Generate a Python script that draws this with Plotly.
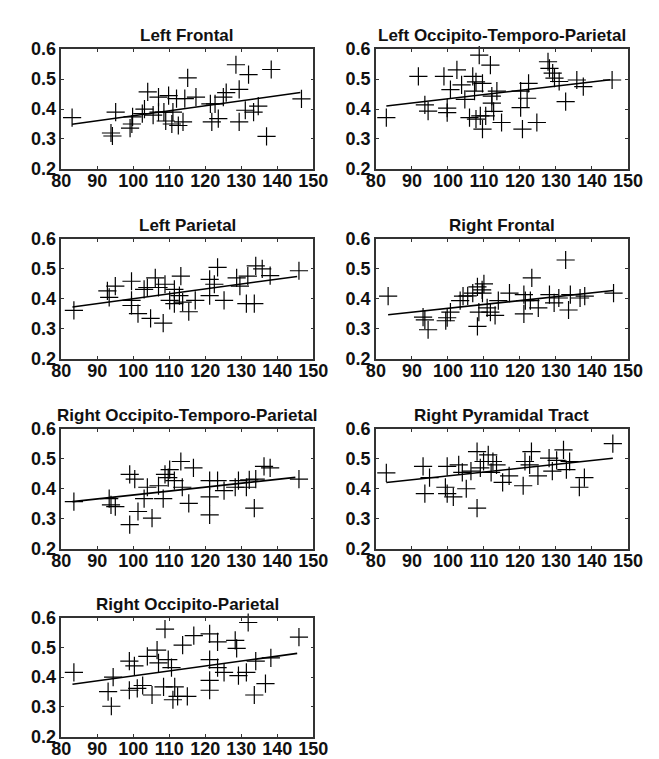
import plotly.graph_objects as go

W, H = 659, 759

titles = ["Left Frontal", "Left Occipito-Temporo-Parietal", "Left Parietal",
          "Right Frontal", "Right Occipito-Temporo-Parietal", "Right Pyramidal Tract",
          "Right Occipito-Parietal"]

# --- data (x = score, y = FA) ---
lf_x = [83, 93.8, 94.2, 95.1, 99.1, 99.6, 99.8, 102.5, 103.1, 104, 105.5, 107, 107, 108.5,
        109, 109.8, 110.7, 111, 112, 112.5, 113.8, 114.3, 115.1, 117.4, 121.4, 121.8, 122.7,
        123.6, 125, 125.8, 128.5, 129.4, 129.4, 131.1, 132, 133.4, 134.7, 137, 138.3, 146.7]
lf_y = [0.371, 0.32, 0.31, 0.39, 0.336, 0.35, 0.374, 0.385, 0.40, 0.457, 0.38, 0.44, 0.39, 0.39,
        0.36, 0.445, 0.35, 0.39, 0.435, 0.345, 0.357, 0.435, 0.504, 0.44, 0.417, 0.357, 0.417,
        0.368, 0.44, 0.455, 0.548, 0.466, 0.357, 0.396, 0.515, 0.39, 0.41, 0.309, 0.532, 0.434]
lf_fit_x = [83, 146.4]
lf_fit_y = [0.349, 0.455]

lotp_x = [82.9, 91.8, 93.6, 94.5, 98.9, 99.8, 99.8, 100.7, 102.5, 103.8, 104.7, 106, 106.9,
          107.4, 107.8, 108.7, 109.6, 107.8, 109, 109.6, 110.5, 111.8, 112.2, 112.2, 112.7,
          113.6, 114.9, 117.3, 120.2, 120.2, 120.7, 122.4, 122, 124.7, 127.8, 128.2, 129.1,
          129.6, 130.9, 132.7, 134, 135.8, 137.6, 145.6]
lotp_y = [0.371, 0.509, 0.414, 0.393, 0.509, 0.403, 0.388, 0.465, 0.531, 0.481, 0.432, 0.371,
          0.509, 0.46, 0.491, 0.58, 0.486, 0.366, 0.377, 0.333, 0.377, 0.547, 0.443, 0.42,
          0.392, 0.46, 0.355, 0.618, 0.46, 0.405, 0.333, 0.486, 0.436, 0.355, 0.558, 0.536,
          0.52, 0.503, 0.492, 0.425, 0.602, 0.497, 0.475, 0.497]
lotp_fit_x = [82.9, 145.1]
lotp_fit_y = [0.41, 0.498]

lp_x = [83.5, 92.8, 93.3, 95, 99.5, 99.5, 99.5, 101.3, 103, 103.9, 104.8, 106.1, 107, 108.3,
        108.8, 110.1, 111.4, 111.4, 113.2, 112.8, 113.7, 115.4, 117.2, 121.2, 121.2, 122.5,
        123.4, 125.2, 128.7, 129.6, 131.8, 131.4, 133.6, 134, 135.8, 138, 146]
lp_y = [0.362, 0.427, 0.405, 0.443, 0.459, 0.395, 0.378, 0.351, 0.432, 0.438, 0.335, 0.47,
        0.438, 0.319, 0.449, 0.395, 0.432, 0.384, 0.476, 0.411, 0.389, 0.357, 0.395, 0.465,
        0.411, 0.449, 0.505, 0.395, 0.47, 0.443, 0.476, 0.384, 0.384, 0.51, 0.5, 0.478, 0.494]
lp_fit_x = [83.1, 145.5]
lp_fit_y = [0.373, 0.475]

rf_x = [83.4, 93.1, 93.6, 94.5, 99.4, 99.8, 100.7, 103.4, 104.2, 105.5, 106.9, 108.2, 108.2,
        108.6, 109.5, 110, 109.6, 110.9, 111.8, 113.1, 114, 117.1, 121.1, 121.1, 121.5, 122.9,
        123.3, 125.1, 128.2, 129.5, 130.8, 132.7, 133.5, 134, 136.7, 138, 146]
rf_y = [0.409, 0.339, 0.33, 0.297, 0.327, 0.337, 0.356, 0.394, 0.409, 0.41, 0.419, 0.44, 0.308,
        0.356, 0.43, 0.45, 0.419, 0.37, 0.356, 0.345, 0.394, 0.419, 0.414, 0.35, 0.394, 0.394,
        0.47, 0.37, 0.414, 0.387, 0.403, 0.53, 0.363, 0.414, 0.403, 0.409, 0.419]
rf_fit_x = [83.4, 146]
rf_fit_y = [0.347, 0.428]

rotp_x = [83.5, 93.3, 93.8, 95, 99, 100.4, 99, 101.3, 103, 103.9, 105.2, 107, 108.3, 108.8,
          109.7, 110.1, 111.4, 113.2, 113.6, 115.4, 116.7, 121.2, 121.2, 121.2, 123.4, 125.2,
          128.3, 129.2, 131.4, 132.2, 133.6, 134, 136.3, 138, 146]
rotp_y = [0.357, 0.367, 0.346, 0.34, 0.448, 0.432, 0.28, 0.324, 0.367, 0.405, 0.302, 0.41,
          0.367, 0.448, 0.437, 0.464, 0.427, 0.491, 0.405, 0.351, 0.47, 0.427, 0.373, 0.313,
          0.427, 0.394, 0.405, 0.427, 0.405, 0.43, 0.335, 0.432, 0.475, 0.47, 0.432]
rotp_fit_x = [83.1, 145]
rotp_fit_y = [0.357, 0.438]

rpt_x = [82.9, 93.1, 93.6, 94.9, 99.3, 99.8, 99.8, 101.5, 103, 104, 105.1, 106.4, 108.1, 108.1,
         109, 109.9, 111.2, 112, 112.5, 113.5, 115.2, 117, 120.9, 121.4, 122.7, 123.2, 125,
         128.1, 129, 130.2, 132.1, 132.9, 133.8, 136.5, 137.9, 145.8]
rpt_y = [0.453, 0.475, 0.384, 0.437, 0.405, 0.475, 0.384, 0.373, 0.48, 0.455, 0.4, 0.459,
         0.524, 0.335, 0.47, 0.491, 0.513, 0.455, 0.491, 0.48, 0.421, 0.443, 0.41, 0.491, 0.48,
         0.524, 0.443, 0.502, 0.459, 0.495, 0.53, 0.464, 0.491, 0.405, 0.437, 0.551]
rpt_fit_x = [82.9, 145.8]
rpt_fit_y = [0.421, 0.502]

rop_x = [83.5, 93, 93.9, 94.4, 98.9, 98.9, 100.3, 101.1, 102.6, 103.9, 105.2, 106.6, 107,
         108.4, 108.8, 109.7, 110.6, 111.5, 111, 112.3, 113.7, 115, 116.8, 121.2, 121.2,
         121.2, 121.2, 123.4, 123.4, 125.2, 128.3, 128.7, 129.2, 131.4, 131.9, 133.6, 134,
         136.7, 138.2, 146]
rop_y = [0.416, 0.351, 0.302, 0.4, 0.454, 0.356, 0.438, 0.362, 0.372, 0.47, 0.34, 0.491,
         0.448, 0.367, 0.562, 0.459, 0.432, 0.367, 0.324, 0.335, 0.508, 0.335, 0.54, 0.546,
         0.459, 0.389, 0.356, 0.519, 0.432, 0.416, 0.524, 0.497, 0.405, 0.416, 0.584, 0.34,
         0.454, 0.378, 0.465, 0.535]
rop_fit_x = [83.1, 145.5]
rop_fit_y = [0.376, 0.48]

panels = [
    (lf_x, lf_y, lf_fit_x, lf_fit_y),
    (lotp_x, lotp_y, lotp_fit_x, lotp_fit_y),
    (lp_x, lp_y, lp_fit_x, lp_fit_y),
    (rf_x, rf_y, rf_fit_x, rf_fit_y),
    (rotp_x, rotp_y, rotp_fit_x, rotp_fit_y),
    (rpt_x, rpt_y, rpt_fit_x, rpt_fit_y),
    (rop_x, rop_y, rop_fit_x, rop_fit_y),
]

x_ticks = [80, 90, 100, 110, 120, 130, 140, 150]
y_ticks = [0.2, 0.3, 0.4, 0.5, 0.6]
y_tick_text = ["0.2", "0.3", "0.4", "0.5", "0.6"]

# pixel frames
col_px = [(45, 307), (372, 634)]
row_px = [(32, 155), (227, 350), (422, 545), (616, 738)]

fig = go.Figure()
layout = dict(
    width=W, height=H, margin=dict(l=0, r=0, t=0, b=0),
    paper_bgcolor="white", plot_bgcolor="white", showlegend=False,
    font=dict(family="Liberation Sans, Arial, sans-serif", color="#111"),
)
annotations = []
tickfont = dict(family="Liberation Sans, Arial, sans-serif", size=18, color="#111", weight=700)

for i, (px, py, fx, fy) in enumerate(panels):
    r, c = divmod(i, 2)
    n = i + 1
    xa = "x" if n == 1 else f"x{n}"
    ya = "y" if n == 1 else f"y{n}"
    fig.add_trace(go.Scatter(x=fx, y=fy, mode="lines", xaxis=xa, yaxis=ya,
                             line=dict(color="black", width=1.6), hoverinfo="skip"))
    fig.add_trace(go.Scatter(x=px, y=py, mode="markers", xaxis=xa, yaxis=ya, cliponaxis=False,
                             marker=dict(symbol="cross-thin", size=13,
                                         line=dict(color="black", width=1.2))))
    x0, x1 = col_px[c]
    t0, t1 = row_px[r]
    dom_x = [x0 / W, x1 / W]
    dom_y = [1 - t1 / H, 1 - t0 / H]
    axcommon = dict(showline=True, linecolor="#333", linewidth=1.5, mirror="allticks",
                    ticks="inside", ticklen=3, tickcolor="#333", showgrid=False,
                    zeroline=False, tickfont=tickfont)
    layout["xaxis" if n == 1 else f"xaxis{n}"] = dict(
        domain=dom_x, range=[80, 150], tickvals=x_ticks, anchor=ya,
        ticklabelstandoff=-5, **axcommon)
    layout["yaxis" if n == 1 else f"yaxis{n}"] = dict(
        domain=dom_y, range=[0.2, 0.6], tickvals=y_ticks, ticktext=y_tick_text,
        anchor=xa, **axcommon)
    annotations.append(dict(
        text=titles[i], xref="paper", yref="paper", x=(dom_x[0] + dom_x[1]) / 2,
        y=dom_y[1], yanchor="bottom", xanchor="center", yshift=2, showarrow=False,
        font=dict(family="Liberation Sans, Arial, sans-serif", size=17, color="#111",
                  weight=700)))

layout["annotations"] = annotations
fig.update_layout(**layout)
fig.write_html("out.html")
